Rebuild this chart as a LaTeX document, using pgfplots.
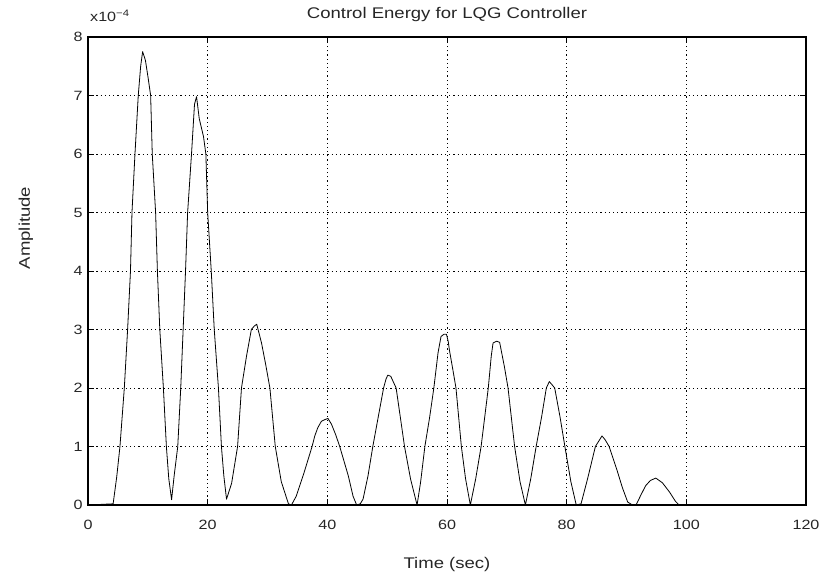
\documentclass[border=0pt]{standalone}
\usepackage{fontspec}
\setmainfont{Liberation Sans}[FakeStretch=1.2]
\usepackage{pgfplots}
\pgfplotsset{compat=1.18}
\begin{document}
\begin{tikzpicture}
\begin{axis}[
  scale only axis,
  width=718bp, height=468bp,
  xmin=0, xmax=120, ymin=0, ymax=8,
  xtick={0,20,...,120}, ytick={0,1,...,8},
  /pgf/number format/assume math mode=true,
  tick label style={font=\fontsize{13.5}{15}\selectfont, text=black!85},
  xticklabel style={anchor=center, yshift=-20bp},
  yticklabel style={anchor=center, xshift=-10bp},
  tick align=inside,
  major tick length=6bp,
  every tick/.style={black, line width=0.8bp},
  axis line style={black, line width=1.1bp},
  grid=major,
  major grid style={black, line width=0.6bp, dash pattern=on 1.2bp off 3bp},
]
\addplot[black, line width=0.8bp, line join=round] coordinates {
(0,0) (4.2,0.02) (4.8,0.48) (5.34,1) (6.07,2) (6.62,3) (7.1,4) (7.35,5) (7.85,6) (8.4,7) (8.8,7.5) (9.13,7.75) (9.6,7.6) (10.05,7.3) (10.47,7) (10.74,6) (11.3,5) (11.6,4) (12.0,3) (12.6,2) (13.1,1) (13.5,0.45) (13.97,0.09)
(14.4,0.5) (15.0,1) (15.5,2) (15.9,3) (16.3,4) (16.65,5) (17.3,6) (17.8,6.85) (18.14,6.98) (18.6,6.6) (19.3,6.3) (19.7,6) (20.0,5) (20.6,4) (21.1,3) (21.8,2) (22.3,1) (22.7,0.5) (23.15,0.1)
(24.0,0.37) (25.0,1) (25.65,2) (26.5,2.55) (27.3,3) (27.8,3.06) (28.2,3.09) (29.0,2.77) (29.7,2.4) (30.4,2) (31.3,1) (32.3,0.4) (33.5,0.02) (34.0,0)
(34.8,0.15) (36.1,0.55) (37.45,1) (37.9,1.18) (38.4,1.32) (39.0,1.43) (39.6,1.46) (40.1,1.48) (40.7,1.38) (41.4,1.2) (42.07,1) (43.5,0.5) (44.3,0.15) (44.9,0) (45.5,0.02)
(45.97,0.1) (46.8,0.5) (47.6,1) (48.5,1.5) (49.4,2) (49.8,2.15) (50.1,2.22) (50.6,2.2) (51.5,2) (52.2,1.5) (52.9,1) (53.9,0.45) (55.0,0)
(55.6,0.4) (56.3,1) (57.1,1.5) (57.8,2) (58.5,2.6) (59.0,2.88) (59.5,2.92) (59.9,2.92) (60.2,2.8) (60.4,2.65) (61.0,2.3) (61.5,2) (62.4,1) (63.1,0.45) (63.9,0)
(64.8,0.45) (65.7,1) (66.3,1.5) (66.9,2) (67.4,2.55) (67.7,2.77) (68.3,2.8) (68.8,2.78) (69.6,2.36) (70.2,2) (71.3,1) (72.2,0.4) (73.1,0)
(74.0,0.45) (74.9,1) (75.8,1.5) (76.6,2) (77.1,2.11) (77.6,2.05) (78.0,2) (78.9,1.5) (79.7,1) (80.7,0.4) (81.6,0)
(82.4,0.02) (83.5,0.45) (84.8,1) (85.9,1.18) (86.4,1.12) (87.1,1) (88.4,0.6) (89.3,0.3) (90.2,0.05) (91.0,0) (91.6,0)
(92.4,0.17) (93.2,0.33) (94.0,0.42) (94.9,0.46) (96.0,0.38) (97.2,0.22) (98.2,0.06) (98.8,0) (117,0)
};
\end{axis}
\node[font=\fontsize{15.5}{18}\selectfont, text=black!85] at (359bp,490bp) {Control Energy for LQG Controller};
\node[font=\fontsize{15.5}{18}\selectfont, text=black!85] at (359bp,-60bp) {Time (sec)};
\node[font=\fontsize{15.5}{18}\selectfont, text=black!85, rotate=90] at (-62bp,277bp) {Amplitude};
\node[font=\fontsize{13.5}{15}\selectfont, text=black!85, anchor=west, inner sep=0pt] at (2bp,489bp) {x10\textsuperscript{−4}};
\pgfresetboundingbox
\path[use as bounding box] (-88bp,-74bp) rectangle (734bp,505bp);
\end{tikzpicture}
\end{document}
